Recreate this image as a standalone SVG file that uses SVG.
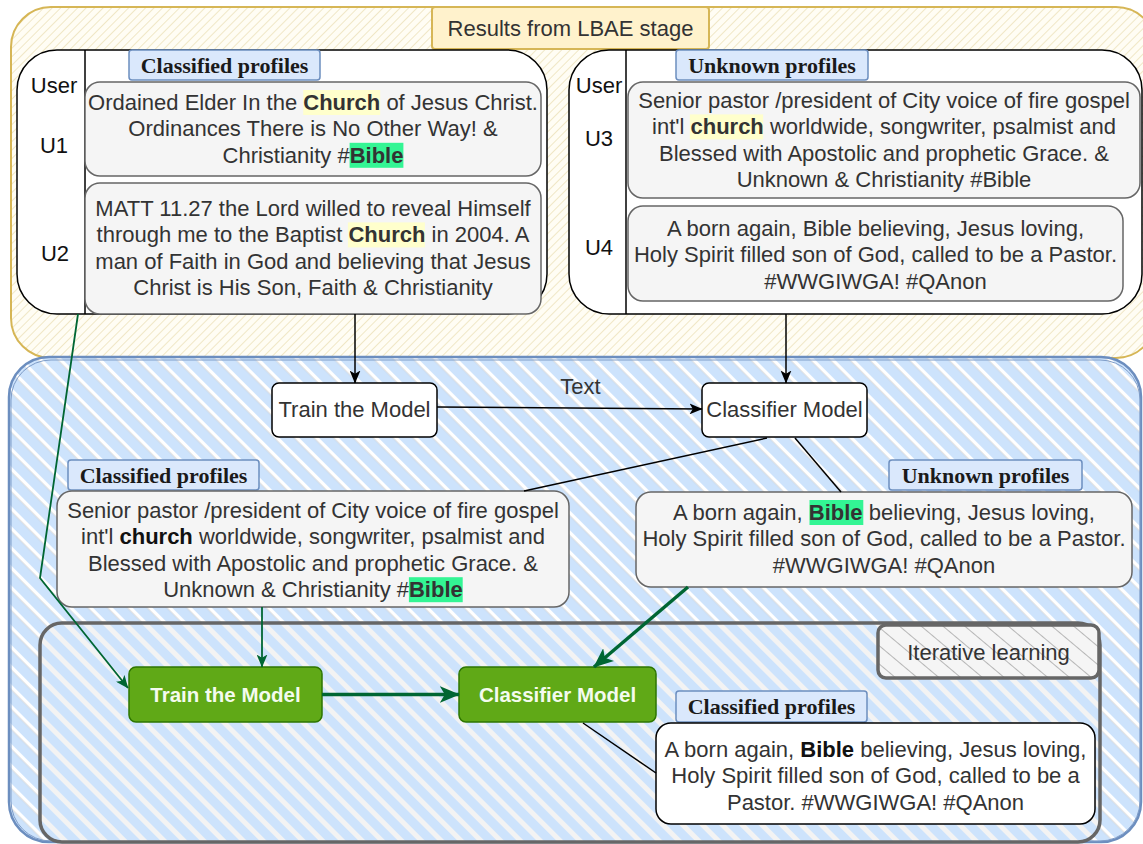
<svg xmlns="http://www.w3.org/2000/svg" width="1143" height="844" viewBox="0 0 1143 844">
  <style>
    .t { font-family: "Liberation Sans", Arial, Helvetica, sans-serif; font-size: 22px; fill: #333333; text-anchor: middle; }
    .k { fill: #111111; }
    .b { font-weight: bold; }
    .tab { fill: #dae8fc; stroke: #6c8ebf; stroke-width: 1.5; }
    .tabt { font-family: "Liberation Serif", "Times New Roman", serif; font-weight: bold; font-size: 22px; fill: #1a1a1a; text-anchor: middle; }
    .panel { fill: #ffffff; stroke: #000000; stroke-width: 1.5; }
    .prof { fill: #f5f5f5; stroke: #666666; stroke-width: 1.5; }
    .node { fill: #ffffff; stroke: #000000; stroke-width: 1.5; }
    .gnode { fill: #60a917; stroke: #2d7600; stroke-width: 1.5; }
    .gt { font-family: "Liberation Sans", Arial, Helvetica, sans-serif; font-size: 20.5px; font-weight: bold; fill: #f4fbee; text-anchor: middle; }
    .hy { fill: #ffffcc; }
    .hg { fill: #33f594; }
    .line { fill: none; stroke: #000000; stroke-width: 1.5; }
    .gline { fill: none; stroke: #006633; stroke-width: 1.8; }
    .gthick { fill: none; stroke: #006633; stroke-width: 3.5; }
  </style>
  <defs>
    <!-- fine gold hachure for the upper stage -->
    <pattern id="hatchY" width="6" height="6" patternUnits="userSpaceOnUse" patternTransform="rotate(45)">
      <rect width="6" height="6" fill="#fffdf4"/>
      <line x1="0" y1="0" x2="0" y2="6" stroke="#e6d9a8" stroke-width="1.2"/>
    </pattern>
    <!-- broad blue hachure for the learning stage -->
    <pattern id="hatchB" width="14" height="14" patternUnits="userSpaceOnUse" patternTransform="rotate(-45)">
      <rect width="14" height="14" fill="#ffffff"/>
      <rect x="0" y="0" width="10" height="14" fill="#cde3fc"/>
      <line x1="10.3" y1="0" x2="10.3" y2="14" stroke="#c8c8c8" stroke-width="0.6"/>
    </pattern>
    <pattern id="hatchBG" width="14" height="14" patternUnits="userSpaceOnUse" patternTransform="rotate(-45)">
      <rect width="14" height="14" fill="#f3f3f3"/>
      <rect x="0" y="0" width="9" height="14" fill="#cde3fc"/>
    </pattern>
    <pattern id="hatchG" width="14" height="14" patternUnits="userSpaceOnUse" patternTransform="rotate(-50)">
      <rect width="14" height="14" fill="#f5f5f5"/>
      <line x1="0" y1="0" x2="0" y2="14" stroke="#777777" stroke-width="1"/>
    </pattern>
    <marker id="ah" viewBox="0 0 12 10" refX="11.5" refY="5" markerWidth="13" markerHeight="11" orient="auto" markerUnits="userSpaceOnUse">
      <path d="M0,0 L12,5 L0,10 L3,5 Z" fill="#000000"/>
    </marker>
    <marker id="ahg" viewBox="0 0 12 10" refX="11.5" refY="5" markerWidth="13" markerHeight="11" orient="auto" markerUnits="userSpaceOnUse">
      <path d="M0,0 L12,5 L0,10 L3,5 Z" fill="#006633"/>
    </marker>
    <marker id="ahgb" viewBox="0 0 12 10" refX="11.5" refY="5" markerWidth="20" markerHeight="17" orient="auto" markerUnits="userSpaceOnUse">
      <path d="M0,0 L12,5 L0,10 L3,5 Z" fill="#006633"/>
    </marker>
  </defs>

  <!-- upper stage container -->
  <g id="stage-lbae">
    <rect x="11" y="7" width="1145" height="351" rx="40" fill="url(#hatchY)" stroke="#d6b656" stroke-width="2"/>
  </g>
  <g id="stage-title">
    <rect x="432" y="7" width="277" height="42" rx="3" fill="#fff2cc" stroke="#d6b656" stroke-width="2"/>
    <text class="t" x="570.5" y="36" fill="#222">Results from LBAE stage</text>
  </g>

  <!-- classified profiles table -->
  <g id="table-classified">
    <rect class="panel" x="17" y="50" width="530" height="264" rx="40"/>
    <line x1="85" y1="50" x2="85" y2="314" stroke="#000" stroke-width="1.5"/>
    <text class="t k" x="54" y="93">User</text>
    <text class="t k" x="54" y="153">U1</text>
    <text class="t k" x="55" y="261">U2</text>
    <rect class="tab" x="129" y="50" width="191" height="30" rx="3"/>
    <text class="tabt" x="224.5" y="73">Classified profiles</text>
  </g>
  <g id="profile-u1">
    <rect class="prof" x="85" y="82" width="456" height="94" rx="15"/>
    <rect class="hy" x="303.2" y="90" width="77" height="25"/>
    <rect class="hg" x="349.6" y="142.8" width="53.8" height="25"/>
    <text class="t" x="313" y="110">Ordained Elder In the <tspan class="b">Church</tspan> of Jesus Christ.</text>
    <text class="t" x="313" y="136.4">Ordinances There is No Other Way! &amp;</text>
    <text class="t" x="313" y="162.8">Christianity #<tspan class="b">Bible</tspan></text>
  </g>
  <g id="profile-u2">
    <rect class="prof" x="85" y="183" width="456" height="131" rx="15"/>
    <rect class="hy" x="347.9" y="222.4" width="77" height="25"/>
    <text class="t" x="313" y="216">MATT 11.27 the Lord willed to reveal Himself</text>
    <text class="t" x="313" y="242.4">through me to the Baptist <tspan class="b">Church</tspan> in 2004. A</text>
    <text class="t" x="313" y="268.8">man of Faith in God and believing that Jesus</text>
    <text class="t" x="313" y="295.2">Christ is His Son, Faith &amp; Christianity</text>
  </g>

  <!-- unknown profiles table -->
  <g id="table-unknown">
    <rect class="panel" x="569" y="50" width="573" height="264" rx="40"/>
    <line x1="626" y1="50" x2="626" y2="314" stroke="#000" stroke-width="1.5"/>
    <text class="t k" x="599" y="93">User</text>
    <text class="t k" x="599" y="146">U3</text>
    <text class="t k" x="599" y="255">U4</text>
    <rect class="tab" x="676" y="50" width="192" height="30" rx="3"/>
    <text class="tabt" x="772" y="73">Unknown profiles</text>
  </g>
  <g id="profile-u3">
    <rect class="prof" x="628" y="82" width="512" height="116" rx="15"/>
    <rect class="hy" x="689.8" y="114.4" width="73.3" height="25"/>
    <text class="t" x="884" y="108">Senior pastor /president of City voice of fire gospel</text>
    <text class="t" x="884" y="134.4">int'l <tspan class="b">church</tspan> worldwide, songwriter, psalmist and</text>
    <text class="t" x="884" y="160.8">Blessed with Apostolic and prophetic Grace. &amp;</text>
    <text class="t" x="884" y="187.2">Unknown &amp; Christianity #Bible</text>
  </g>
  <g id="profile-u4">
    <rect class="prof" x="628" y="206" width="495" height="95" rx="15"/>
    <text class="t" x="875.5" y="236">A born again, Bible believing, Jesus loving,</text>
    <text class="t" x="875.5" y="262.4">Holy Spirit filled son of God, called to be a Pastor.</text>
    <text class="t" x="875.5" y="288.8">#WWGIWGA! #QAnon</text>
  </g>

  <!-- learning stage container -->
  <g id="stage-learning">
    <rect x="9" y="357" width="1132" height="485" rx="40" fill="url(#hatchB)" stroke="#6c8ebf" stroke-width="2.5"/>
    <rect x="11" y="360" width="1129" height="481" rx="40" fill="none" stroke="#7f9dc8" stroke-width="1"/>
  </g>

  <g id="train-model">
    <rect class="node" x="272" y="383" width="165" height="54" rx="7"/>
    <text class="t" x="354.5" y="417" fill="#1a1a1a">Train the Model</text>
  </g>
  <g id="classifier-model">
    <rect class="node" x="702" y="383" width="165" height="54" rx="7"/>
    <text class="t" x="784.5" y="417" fill="#1a1a1a">Classifier Model</text>
  </g>

  <g id="classified-sample">
    <rect class="tab" x="68" y="460" width="191" height="30" rx="3"/>
    <text class="tabt" x="163.5" y="483">Classified profiles</text>
    <rect class="prof" x="57" y="491" width="512" height="116" rx="15"/>
    <rect class="hg" x="408.9" y="577.2" width="53.8" height="25"/>
    <text class="t" x="313" y="518">Senior pastor /president of City voice of fire gospel</text>
    <text class="t" x="313" y="544.4">int'l <tspan class="b" fill="#111">church</tspan> worldwide, songwriter, psalmist and</text>
    <text class="t" x="313" y="570.8">Blessed with Apostolic and prophetic Grace. &amp;</text>
    <text class="t" x="313" y="597.2">Unknown &amp; Christianity #<tspan class="b">Bible</tspan></text>
  </g>

  <g id="unknown-sample">
    <rect class="tab" x="889" y="460" width="193" height="30" rx="3"/>
    <text class="tabt" x="985.5" y="483">Unknown profiles</text>
    <rect class="prof" x="636" y="492" width="496" height="95" rx="15"/>
    <rect class="hg" x="809.5" y="500" width="53.8" height="25"/>
    <text class="t" x="884" y="520">A born again, <tspan class="b">Bible</tspan> believing, Jesus loving,</text>
    <text class="t" x="884" y="546.4">Holy Spirit filled son of God, called to be a Pastor.</text>
    <text class="t" x="884" y="572.8">#WWGIWGA! #QAnon</text>
  </g>

  <!-- iterative learning loop -->
  <g id="iterative-loop">
    <rect x="40" y="623" width="1060" height="219" rx="22" fill="url(#hatchBG)" stroke="#666666" stroke-width="3.5"/>
  </g>
  <g id="iterative-label">
    <rect x="878" y="625" width="221" height="53" rx="8" fill="url(#hatchG)" stroke="#666666" stroke-width="3.5"/>
    <text class="t" x="988.5" y="660">Iterative learning</text>
  </g>

  <g id="train-model-iter">
    <rect class="gnode" x="129" y="667" width="193" height="55" rx="7"/>
    <text class="gt" x="225.5" y="702">Train the Model</text>
  </g>
  <g id="classifier-model-iter">
    <rect class="gnode" x="459" y="667" width="197" height="55" rx="7"/>
    <text class="gt" x="557.5" y="702">Classifier Model</text>
  </g>

  <g id="classified-result">
    <rect class="tab" x="676" y="691" width="191" height="31" rx="3"/>
    <text class="tabt" x="771.5" y="714">Classified profiles</text>
    <rect x="656" y="723" width="439" height="101" rx="15" fill="#ffffff" stroke="#000000" stroke-width="1.5"/>
    <text class="t" x="875.5" y="757">A born again, <tspan class="b" fill="#111">Bible</tspan> believing, Jesus loving,</text>
    <text class="t" x="875.5" y="783.4">Holy Spirit filled son of God, called to be a</text>
    <text class="t" x="875.5" y="809.8">Pastor. #WWGIWGA! #QAnon</text>
  </g>

  <!-- connectors -->
  <g id="connectors">
    <path class="line" d="M355,314 L355,383" marker-end="url(#ah)"/>
    <path class="line" d="M786,314 L786,383" marker-end="url(#ah)"/>
    <path class="line" d="M437,407 L702,409" marker-end="url(#ah)"/>
    <text class="t" x="580.5" y="394" fill="#222">Text</text>
    <path class="line" d="M767,438 L524,491"/>
    <path class="line" d="M795,438 L841,492"/>
    <path class="line" d="M583,723 L656,773"/>
    <path class="gline" d="M78,314 L40,578 L128,688" marker-end="url(#ahg)"/>
    <path class="gline" d="M262,607 L262,667" marker-end="url(#ahg)"/>
    <path class="gthick" d="M688,587 L594,667" stroke-width="3" marker-end="url(#ahgb)"/>
    <path class="gthick" d="M322,694.5 L459,694.5" marker-end="url(#ahgb)"/>
  </g>
</svg>
